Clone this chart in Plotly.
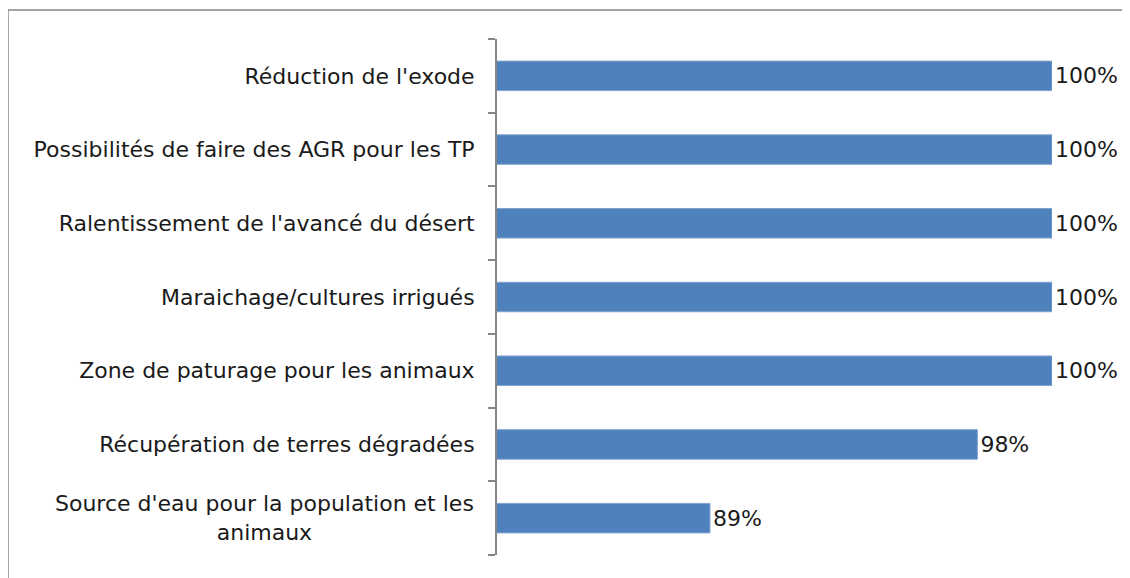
import plotly.graph_objects as go

categories = [
    "Réduction de l'exode",
    "Possibilités de faire des AGR pour les TP",
    "Ralentissement de l'avancé du désert",
    "Maraichage/cultures irrigués",
    "Zone de paturage pour les animaux",
    "Récupération de terres dégradées",
    "Source d'eau pour la population et les animaux",
]
tick_texts = [
    "Réduction de l'exode",
    "Possibilités de faire des AGR pour les TP",
    "Ralentissement de l'avancé du désert",
    "Maraichage/cultures irrigués",
    "Zone de paturage pour les animaux",
    "Récupération de terres dégradées",
    "Source d'eau pour la population et les<br>animaux",
]
values = [100, 100, 100, 100, 100, 97.6, 89]
labels = ["100%", "100%", "100%", "100%", "100%", "98%", "89%"]

OFF = 8  # default body margin of the html page
W, H = 1130 - OFF, 578 - OFF
L, R, T, B = 497 - OFF, 1052 - OFF, 39 - OFF, 555 - OFF
FONT = "DejaVu Sans"
FS = 22

fig = go.Figure(go.Bar(
    y=categories, x=values, orientation="h",
    marker=dict(color="#4F81BD", line=dict(color="#7FA3D0", width=1)),
    text=labels, textposition="outside", cliponaxis=False,
    textfont=dict(size=FS, color="#1a1a1a", family=FONT),
))

# plain tick labels for single-line categories, centred annotation for the wrapped one
ticktext = [t if "<br>" not in t else "" for t in tick_texts]
annotations = [
    dict(x=(476 - 497) / (R - L), xref="paper", y=c, yref="y", text=t,
         xanchor="right", yanchor="middle", align="center", showarrow=False,
         font=dict(size=FS, color="#1a1a1a", family=FONT))
    for c, t in zip(categories, tick_texts) if "<br>" in t
]

fig.update_layout(
    width=W, height=H,
    margin=dict(l=L, r=W - R, t=T, b=H - B, pad=0),
    paper_bgcolor="white", plot_bgcolor="white",
    showlegend=False, bargap=0.6,
    font=dict(family=FONT, size=FS, color="#1a1a1a"),
    xaxis=dict(range=[82.15, 100], showticklabels=False, showgrid=False,
               zeroline=False, showline=False, ticks=""),
    yaxis=dict(autorange="reversed", showline=True, linecolor="#868686", linewidth=2,
               ticks="outside", ticklen=7, tickcolor="#868686", tickwidth=2,
               tickson="boundaries", showgrid=False, ticklabelstandoff=16,
               tickmode="array", tickvals=categories, ticktext=ticktext),
    annotations=annotations,
    shapes=[dict(type="rect", xref="paper", yref="paper",
                 x0=(8 - 497) / (R - L), x1=(1160 - 497) / (R - L),
                 y0=(555 - 600) / (B - T), y1=(555 - 10) / (B - T),
                 line=dict(color="#888888", width=1.5))],
)

fig.write_html("out.html")
